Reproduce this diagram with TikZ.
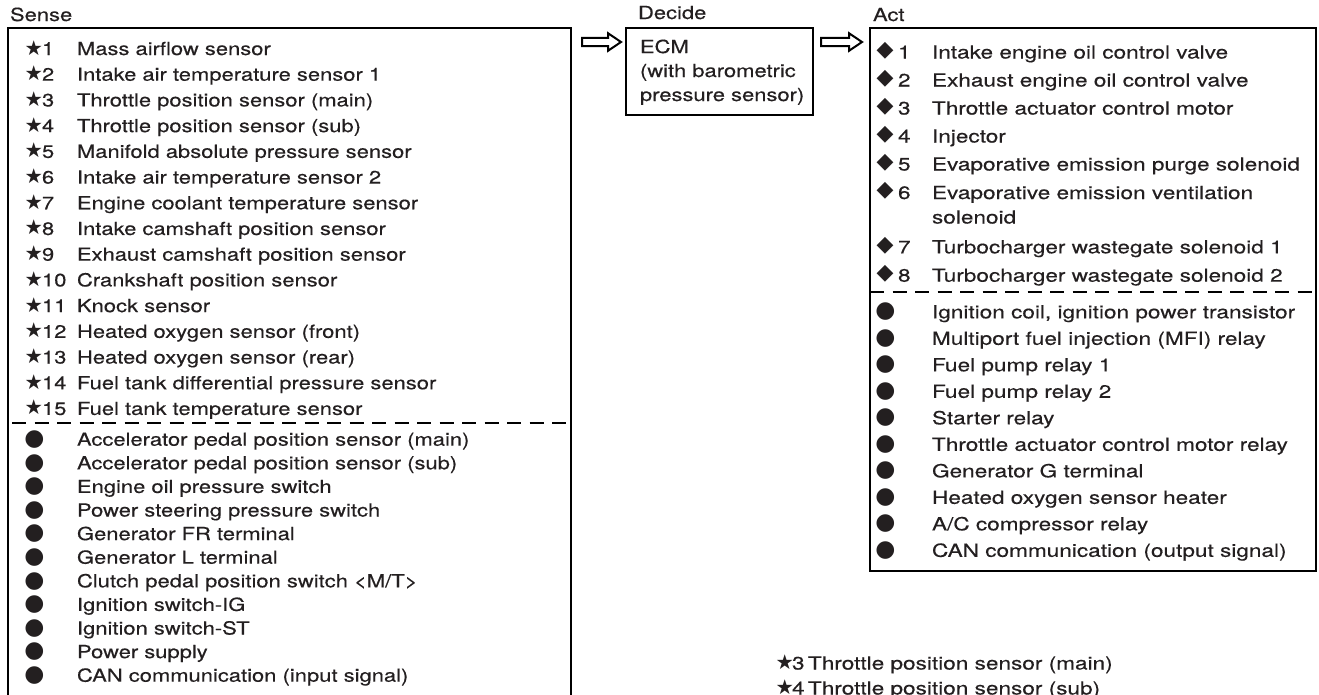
\documentclass[tikz,border=0pt]{standalone}
\usepackage{fontspec}
\setmainfont{TeX Gyre Heros}[FakeStretch=1.22,FakeBold=0.35]
\newfontfamily\actfont{TeX Gyre Heros}[FakeStretch=1.255,FakeBold=0.35]
\newfontfamily\symfont{DejaVu Sans}
\usetikzlibrary{calc}
\definecolor{txt}{HTML}{231F20}
\newcommand\blockarrow[2]{\draw[arrowline] ($(#1)+(0,-4.2)$) -- ($(#2)+(-13,-4.2)$) -- ($(#2)+(-13,-8.8)$) -- (#2) -- ($(#2)+(-13,8.8)$) -- ($(#2)+(-13,4.2)$) -- ($(#1)+(0,4.2)$) -- cycle;}
\begin{document}
\begin{tikzpicture}[x=1pt,y=-1pt,
  lbl/.style={inner sep=0pt, outer sep=0pt, anchor=base west, font=\fontsize{18}{23}\selectfont, text=txt},
  albl/.style={lbl, font=\actfont\fontsize{18}{23}\selectfont},
  starmk/.style={inner sep=0pt, outer sep=0pt, anchor=base west, font=\symfont\fontsize{20.5}{20}\selectfont, text=txt},
  dotmk/.style={inner sep=0pt, outer sep=0pt, anchor=center, font=\symfont\fontsize{23}{22}\selectfont, text=txt},
  diamk/.style={inner sep=0pt, outer sep=0pt, anchor=center, font=\symfont\fontsize{22}{22}\selectfont, text=txt},
  box/.style={draw=black, line width=2.2pt, inner sep=0pt, outer sep=0pt, anchor=north west},
  divider/.style={draw=black, line width=2pt, dash pattern=on 14pt off 8.5pt},
  arrowline/.style={draw=black, line width=2pt, line join=miter, fill=white}]
\useasboundingbox (0,0) rectangle (1319,694);

% headings
\node[lbl] (hsense) at (10,21) {Sense};
\node[lbl] (hdecide) at (638,19) {Decide};
\node[lbl] (hact) at (873,21) {Act};

% boxes
\node[box, minimum width=563pt, minimum height=720pt] (sense) at (8,28) {};
\node[box, minimum width=187pt, minimum height=87pt] (ecm) at (626,28) {};
\node[box, minimum width=446pt, minimum height=543pt] (act) at (870,28) {};

% dividers
\coordinate (sdl) at (0,422.7);
\coordinate (adl) at (0,291.7);
\draw[divider, dash phase=18.5pt] (sense.west |- sdl) -- (sense.east |- sdl);
\draw[divider] (act.west |- adl) -- (act.east |- adl);

% arrows
\coordinate (a1s) at ($(sense.north east)+(11,14)$);
\coordinate (a1e) at ($(ecm.north west)+(-5,14)$);
\coordinate (a2s) at ($(ecm.north east)+(8,14)$);
\coordinate (a2e) at ($(act.north west)+(-8,14)$);
\blockarrow{a1s}{a1e}
\blockarrow{a2s}{a2e}

% ECM text
\node[lbl] (ecm1) at (640,53) {ECM};
\node[lbl] (ecm2) at (640,77) {(with barometric};
\node[lbl] (ecm3) at (640,101) {pressure sensor)};

% Sense: starred inputs
\foreach \n/\t [count=\i from 0] in {
  1/Mass airflow sensor,
  2/Intake air temperature sensor 1,
  3/Throttle position sensor (main),
  4/Throttle position sensor (sub),
  5/Manifold absolute pressure sensor,
  6/Intake air temperature sensor 2,
  7/Engine coolant temperature sensor,
  8/Intake camshaft position sensor,
  9/Exhaust camshaft position sensor,
  10/Crankshaft position sensor,
  11/Knock sensor,
  12/Heated oxygen sensor (front),
  13/Heated oxygen sensor (rear),
  14/Fuel tank differential pressure sensor,
  15/Fuel tank temperature sensor}{
  \pgfmathsetmacro\yb{55+25.71*\i}
  \node[starmk] (ss\n) at (24.5,\yb) {★};
  \node[lbl] (sn\n) at (42,\yb) {\n};
  \node[lbl] (st\n) at (77,\yb) {\t};
}

% Sense: other inputs
\foreach \t [count=\i from 0] in {
  {Accelerator pedal position sensor (main)},
  {Accelerator pedal position sensor (sub)},
  {Engine oil pressure switch},
  {Power steering pressure switch},
  {Generator FR terminal},
  {Generator L terminal},
  {Clutch pedal position switch <M/T>},
  {Ignition switch-IG},
  {Ignition switch-ST},
  {Power supply},
  {CAN communication (input signal)}}{
  \pgfmathsetmacro\yb{445.7+23.6*\i}
  \pgfmathsetmacro\yc{\yb-6.2}
  \node[dotmk] (sd\i) at (34.5,\yc) {●};
  \node[lbl] (sb\i) at (77,\yb) {\t};
}

% Act: diamond outputs
\foreach \n/\t/\yb in {
  1/Intake engine oil control valve/58.5,
  2/Exhaust engine oil control valve/86.5,
  3/Throttle actuator control motor/114.5,
  4/Injector/142.5,
  5/Evaporative emission purge solenoid/170.5,
  6/Evaporative emission ventilation/199,
  7/Turbocharger wastegate solenoid 1/253.3,
  8/Turbocharger wastegate solenoid 2/281.7}{
  \pgfmathsetmacro\yc{\yb-8}
  \node[diamk] (ad\n) at (885,\yc) {◆};
  \node[albl] (an\n) at (898,\yb) {\n};
  \node[albl] (at\n) at (932,\yb) {\t};
}
\node[albl] (at6b) at (932,223.5) {solenoid};

% Act: other outputs
\foreach \t [count=\i from 0] in {
  {Ignition coil, ignition power transistor},
  {Multiport fuel injection (MFI) relay},
  {Fuel pump relay 1},
  {Fuel pump relay 2},
  {Starter relay},
  {Throttle actuator control motor relay},
  {Generator G terminal},
  {Heated oxygen sensor heater},
  {A/C compressor relay},
  {CAN communication (output signal)}}{
  \pgfmathsetmacro\yb{318.3+26.5*\i}
  \pgfmathsetmacro\yc{\yb-6.5}
  \node[dotmk] (ab\i) at (885.5,\yc) {●};
  \node[albl] (abt\i) at (932,\yb) {\t};
}

% loose lines at the bottom
\node[starmk] (fs3) at (775.5,669.5) {★};
\node[albl] (fn3) at (792,669.5) {3};
\node[albl] (ft3) at (808,669.5) {Throttle position sensor (main)};
\node[starmk] (fs4) at (775.5,694.5) {★};
\node[albl] (fn4) at (792,694.5) {4};
\node[albl] (ft4) at (808,694.5) {Throttle position sensor (sub)};
\end{tikzpicture}
\end{document}
